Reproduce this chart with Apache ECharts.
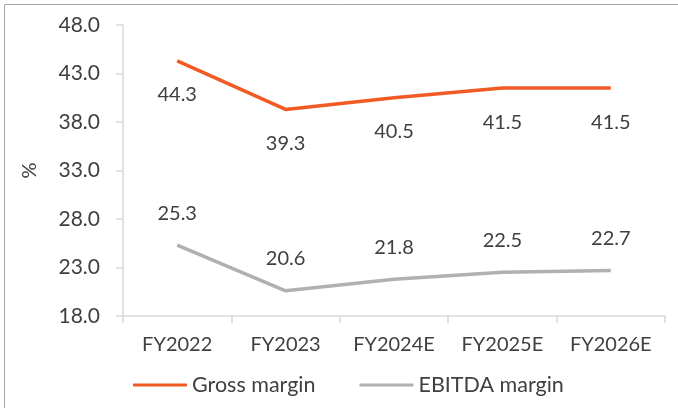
<!DOCTYPE html>
<html>
<head>
<meta charset="utf-8">
<script src="https://cdn.jsdelivr.net/npm/echarts@6/dist/echarts.min.js"></script>
<style>html,body{margin:0;padding:0;background:#fff}#c{width:678px;height:408px}</style>
</head>
<body>
<div id="c"></div>
<script>
const categories = ['FY2022', 'FY2023', 'FY2024E', 'FY2025E', 'FY2026E'];
const grossMargin = [44.3, 39.3, 40.5, 41.5, 41.5];
const ebitdaMargin = [25.3, 20.6, 21.8, 22.5, 22.7];
const yMin = 18, yMax = 48, yStep = 5;

const FONT = 'Lato';
const TXT = '#404040';
const FS = 20;
const chart = echarts.init(document.getElementById('c'));
chart.setOption({
  animation: false,
  textStyle: { fontFamily: FONT },
  graphic: [{
    type: 'rect', shape: { x: 4.5, y: 4.5, width: 800, height: 600 },
    style: { fill: 'none', stroke: '#a6a6a6', lineWidth: 1 }, silent: true
  }],
  grid: { left: 123, right: 13, top: 25, bottom: 92 },
  legend: {
    top: 374, left: 133, itemWidth: 54, itemHeight: 3, itemGap: 44,
    icon: 'rect', padding: 0,
    textStyle: { fontFamily: FONT, fontSize: 21.5, color: TXT },
    data: ['Gross margin', 'EBITDA margin']
  },
  xAxis: {
    type: 'category', data: categories, boundaryGap: true,
    axisLine: { lineStyle: { color: '#d9d9d9', width: 1.5 } },
    axisTick: { show: true, length: 7, lineStyle: { color: '#d9d9d9', width: 1.5 } },
    axisLabel: { fontFamily: FONT, fontSize: FS, color: TXT, margin: 19 }
  },
  yAxis: {
    type: 'value', min: yMin, max: yMax, interval: yStep,
    name: '%', nameLocation: 'middle', nameGap: 83, nameRotate: 90,
    nameTextStyle: { fontFamily: FONT, fontSize: FS, color: TXT },
    axisLine: { show: true, lineStyle: { color: '#d9d9d9', width: 1.5 } },
    axisTick: { show: true, length: 7, lineStyle: { color: '#d9d9d9', width: 1.5 } },
    splitLine: { show: false },
    axisLabel: { fontFamily: FONT, fontSize: 21, color: TXT, margin: 23, formatter: v => v.toFixed(1) }
  },
  series: [{
    name: 'Gross margin', type: 'line', data: grossMargin,
    symbol: 'circle', symbolSize: 0.01, showSymbol: true, itemStyle: { color: '#f25a24' },
    lineStyle: { color: '#f25a24', width: 3.5 },
    label: { show: true, position: 'bottom', distance: 24, fontFamily: FONT, fontSize: FS, color: TXT, formatter: p => p.value.toFixed(1) }
  }, {
    name: 'EBITDA margin', type: 'line', data: ebitdaMargin,
    symbol: 'circle', symbolSize: 0.01, showSymbol: true, itemStyle: { color: '#b0b0b0' },
    lineStyle: { color: '#b0b0b0', width: 3.5 },
    label: { show: true, position: 'top', distance: 22, fontFamily: FONT, fontSize: FS, color: TXT, formatter: p => p.value.toFixed(1) }
  }]
});
</script>
</body>
</html>
